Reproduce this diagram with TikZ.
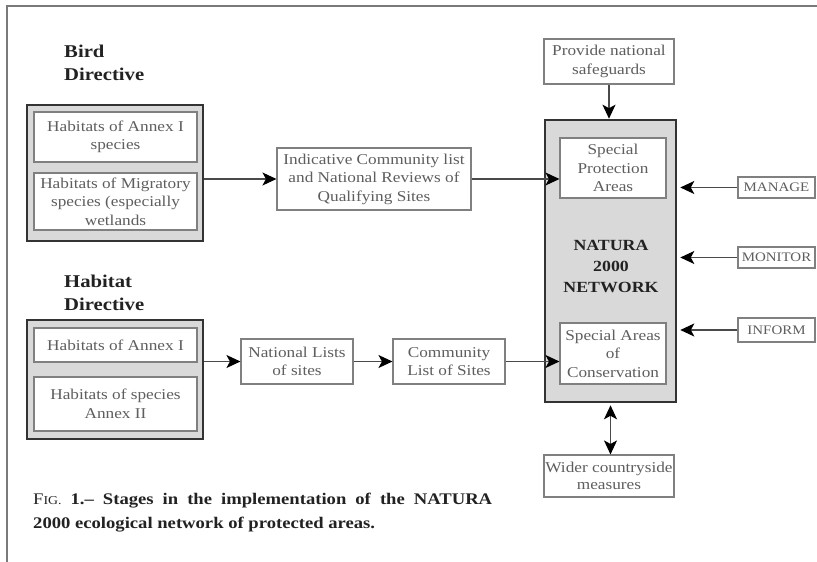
\documentclass[tikz,border=0pt]{standalone}
\usepackage{fontspec}
\setmainfont{Liberation Serif}[FakeStretch=1.15]
\usetikzlibrary{arrows.meta}
\definecolor{framegray}{HTML}{7A7A7A}
\definecolor{boxline}{HTML}{808080}
\definecolor{boxtext}{HTML}{5E5E5E}
\definecolor{darkline}{HTML}{333333}
\definecolor{fillgray}{HTML}{D9D9D9}
\definecolor{arrline}{HTML}{4A4A4A}
\definecolor{titletext}{HTML}{222222}
\begin{document}
\begin{tikzpicture}[x=1pt,y=-1pt,
  bx/.style={draw=boxline, line width=1.1pt, fill=white, text=boxtext, align=center,
    inner sep=0pt, font=\fontsize{15}{18.5}\selectfont},
  smallbx/.style={bx, font=\fontsize{13}{15}\selectfont},
  outerbox/.style={draw=darkline, line width=2.6pt, fill=fillgray, inner sep=0pt},
  ttl/.style={anchor=base west, align=left, text=titletext, inner sep=0pt,
    font=\fontsize{18}{23}\selectfont\bfseries},
  arr/.style={draw=arrline, line width=1.1pt, -{Stealth[length=14pt,width=13pt,inset=3.5pt,black]}},
  darr/.style={draw=arrline, line width=1.1pt, {Stealth[length=14pt,width=13pt,inset=3.5pt,black]}-{Stealth[length=14pt,width=13pt,inset=3.5pt,black]}}
]
\useasboundingbox (0,0) rectangle (817,562);
% frame
\draw[framegray, line width=2.5pt] (7,562) -- (7,6) -- (817,6);

% titles (base anchor = baseline of last line)
\node[ttl] (birdT) at (64,80) {Bird\\Directive};
\node[ttl] (habT) at (64,310) {Habitat\\Directive};

% bird directive group
\node[outerbox, minimum width=176pt, minimum height=136pt] (birdO) at (115,173) {};
\node[bx, minimum width=163pt, minimum height=50pt] (birdA) at (115.5,137) {Habitats of Annex I\\species};
\node[bx, minimum width=163pt, minimum height=57pt] (birdB) at (115.5,201.5) {Habitats of Migratory\\species (especially\\wetlands};

% habitat directive group
\node[outerbox, minimum width=176pt, minimum height=119pt] (habO) at (115,379.5) {};
\node[bx, minimum width=163pt, minimum height=34pt] (habA) at (115.5,345) {Habitats of Annex I};
\node[bx, minimum width=163pt, minimum height=54pt] (habB) at (115.5,404) {Habitats of species\\Annex II};

% middle boxes
\node[bx, minimum width=194pt, minimum height=62pt] (indic) at (374,179) {Indicative Community list\\and National Reviews of\\Qualifying Sites};
\node[bx, minimum width=112pt, minimum height=45pt] (natl) at (297,361.5) {National Lists\\of sites};
\node[bx, minimum width=112pt, minimum height=45pt] (comm) at (449,361.5) {Community\\List of Sites};

% natura
\node[outerbox, minimum width=131pt, minimum height=282pt] (natura) at (610.5,261) {};
\node[anchor=center, align=center, text=titletext, inner sep=0pt,
  font=\fontsize{15.5}{21}\selectfont\bfseries] (naturaT) at (611,266) {NATURA\\2000\\NETWORK};
\node[bx, minimum width=106pt, minimum height=60pt] (spa) at (613,168) {Special\\Protection\\Areas};
\node[bx, minimum width=106pt, minimum height=61pt] (sac) at (613,353.5) {Special Areas\\of\\Conservation};

\node[bx, minimum width=130pt, minimum height=45pt] (prov) at (609,61.5) {Provide national\\safeguards};
\node[bx, minimum width=130pt, minimum height=42pt, font=\fontsize{15}{17}\selectfont] (wider) at (609,476) {Wider countryside\\measures};

\node[smallbx, minimum width=77pt, minimum height=21pt] (manage) at (776.5,187.5) {MANAGE};
\node[smallbx, minimum width=77pt, minimum height=21pt] (monitor) at (776.5,257.5) {MONITOR};
\node[smallbx, minimum width=77pt, minimum height=24pt] (inform) at (776.5,330) {INFORM};

% caption
\node[anchor=base west, align=left, inner sep=0pt, text=titletext,
  font=\fontsize{16.2}{24}\selectfont\bfseries] (cap) at (33,528)
  {\makebox[459pt][s]{{\mdseries F\fontsize{12}{24}\selectfont IG.} 1.– Stages in the implementation of the NATURA}\\2000 ecological network of protected areas.};

% connectors
\draw[arr] (birdO.east |- indic.west) -- (indic.west);
\draw[arr] (indic.east) -- (spa.west |- indic.east);
\draw[arr] (habO.east |- natl.west) -- (natl.west);
\draw[arr] (natl.east) -- (comm.west);
\draw[arr] (comm.east) -- (sac.west |- comm.east);
\draw[arr] (prov.south) -- (prov.south |- natura.north);
\draw[arr, shorten >=3pt] (manage.west) -- (natura.east |- manage.west);
\draw[arr, shorten >=3pt] (monitor.west) -- (natura.east |- monitor.west);
\draw[arr, shorten >=3pt] (inform.west) -- (natura.east |- inform.west);
\draw[darr, shorten <=2pt] (natura.south) -- (natura.south |- wider.north);
\end{tikzpicture}
\end{document}
